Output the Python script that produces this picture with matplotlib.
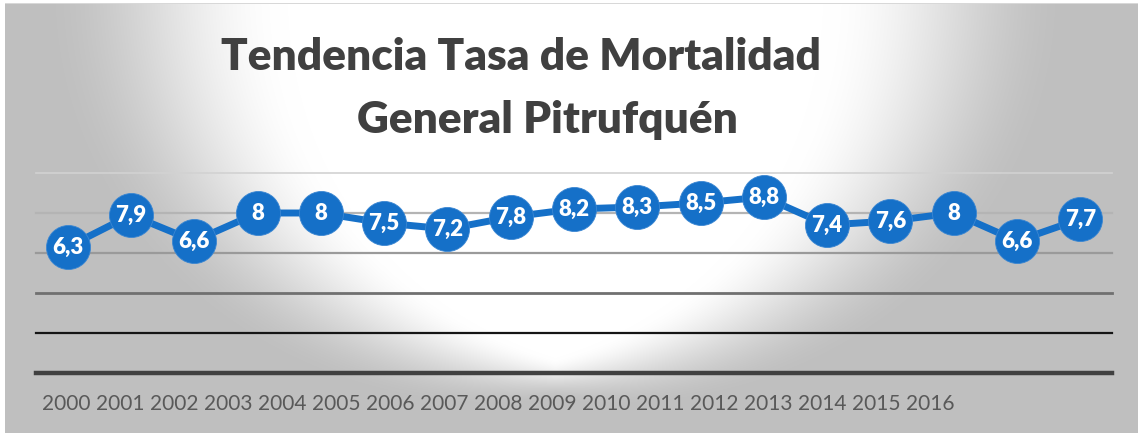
import numpy as np
import matplotlib
matplotlib.use("Agg")
import matplotlib.pyplot as plt

# Tasa de mortalidad general, Pitrufquén
years = [str(y) for y in range(2000, 2017)]
rates = [6.3, 7.9, 6.6, 8.0, 8.0, 7.5, 7.2, 7.8, 8.2, 8.3, 8.5, 8.8, 7.4, 7.6, 8.0, 6.6, 7.7]
rate_labels = ["6,3", "7,9", "6,6", "8", "8", "7,5", "7,2", "7,8", "8,2", "8,3",
               "8,5", "8,8", "7,4", "7,6", "8", "6,6", "7,7"]
grid_values = [0, 2, 4, 6, 8, 10]
title_lines = ["Tendencia Tasa de Mortalidad", "General Pitrufquén"]

W, H = 1138, 433
DPI = 100
BLUE = "#1570C8"
FONT = ["Lato", "DejaVu Sans"]

fig = plt.figure(figsize=(W / DPI, H / DPI), dpi=DPI)
fig.patch.set_facecolor("white")

# radial grey-to-white background of the chart area
bg = fig.add_axes([0, 0, 1, 1], zorder=-2)
bg.set_axis_off()
X, Y = np.meshgrid(np.arange(W), np.arange(H))
dxn = (X - 555) / 425.0
dyn = (Y + 10) / 395.0
d = np.hypot(dxn, dyn)
h = np.abs(dxn) / np.maximum(d, 1e-6)
inner = 1 - (0.07 + 0.30 * h)
outer = 1 + (0.04 + 0.18 * h)
t = np.clip((d - inner) / (outer - inner), 0, 1)
t = t * t * (3 - 2 * t)
val = (255 - (255 - 191) * t) / 255.0
img = np.dstack([val, val, val])
img[:, :5, :] = 1.0
img[:3, :, :] = 1.0
img[3, 5:, :] = 0.85
bg.imshow(img, extent=[0, W, H, 0], aspect="auto", interpolation="bilinear")
bg.set_xlim(0, W)
bg.set_ylim(H, 0)

# plot area
left, right = 36 / W, 1112 / W
bottom, top = (H - 373) / H, (H - 173) / H
ax = fig.add_axes([left, bottom, right - left, top - bottom])
ax.patch.set_alpha(0)
ax.set_xlim(-0.5, len(rates) - 0.5)
ax.set_ylim(0, 10)
for s in ax.spines.values():
    s.set_visible(False)
ax.set_xticks([])
ax.set_yticks([])

grid_styles = {
    10: ("#d2d2d2", 1.2),
    8: ("#b4b4b4", 1.6),
    6: ("#9a9a9a", 1.6),
    4: ("#707070", 2.0),
    2: ("#151515", 1.6),
    0: ("#404040", 3.2),
}
for g in grid_values:
    c, lw = grid_styles[g]
    ax.axhline(g, color=c, lw=lw, zorder=1, clip_on=False)

x = np.arange(len(rates))
ax.plot(x, rates, color=BLUE, lw=5, zorder=3, solid_capstyle="round",
        marker="o", markersize=31.7, markerfacecolor=BLUE,
        markeredgecolor="#3a86d2", markeredgewidth=0.6, clip_on=False)
for xi, v, lab in zip(x, rates, rate_labels):
    ax.text(xi, v, lab, ha="center", va="center", color="white",
            fontsize=16, fontweight="heavy", family=FONT, zorder=4)

# year labels along the bottom
step = 54.0
for i, yr in enumerate(years):
    fig.text((42 + i * step) / W, 1 - 404 / H, yr, ha="left", va="center",
             color="#595959", fontsize=15, family=FONT)

# title
fig.text(521 / W, 1 - 70 / H, title_lines[0], ha="center", va="baseline",
         color="#404040", fontsize=31.8, fontweight="heavy", family=FONT)
fig.text(547 / W, 1 - 133 / H, title_lines[1], ha="center", va="baseline",
         color="#404040", fontsize=31.8, fontweight="heavy", family=FONT)

fig.savefig("out.png", dpi=DPI)
